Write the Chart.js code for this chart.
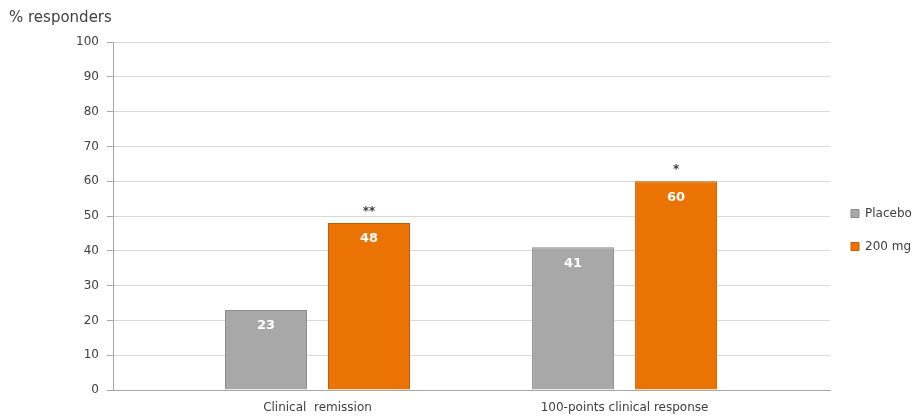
<!DOCTYPE html>
<html>
<head>
<meta charset="utf-8">
<script src="https://cdn.jsdelivr.net/npm/chart.js@4/dist/chart.umd.min.js"></script>
<style>
  html, body { margin: 0; padding: 0; background: #ffffff; }
  #wrap { width: 916px; height: 418px; position: relative; }
</style>
</head>
<body>
<div id="wrap"><canvas id="c" width="916" height="418"></canvas></div>
<script>
// ---- data ----
const categories = ['Clinical  remission', '100-points clinical response'];
const seriesNames = ['Placebo', '200 mg'];
const placeboValues = [23, 41];
const doseValues = [48, 60];
const significance = ['**', '*'];
const yTicks = [0, 10, 20, 30, 40, 50, 60, 70, 80, 90, 100];
const yAxisTitle = '% responders';

const FONT = '"DejaVu Sans", Verdana, sans-serif';

const labelPlugin = {
  id: 'barLabels',
  afterDatasetsDraw(chart) {
    const ctx = chart.ctx;
    ctx.save();
    ctx.textAlign = 'center';
    ctx.textBaseline = 'middle';
    chart.data.datasets.forEach((ds, di) => {
      const meta = chart.getDatasetMeta(di);
      meta.data.forEach((bar, i) => {
        ctx.fillStyle = '#ffffff';
        ctx.font = 'bold 13px ' + FONT;
        ctx.fillText(String(ds.data[i].y), bar.x, bar.y + 16);
        if (di === 1) {
          ctx.fillStyle = '#404040';
          ctx.font = 'bold 12px ' + FONT;
          ctx.fillText(significance[i], bar.x, bar.y - 11);
        }
      });
    });
    ctx.restore();
  }
};

const titlePlugin = {
  id: 'topTitle',
  afterDraw(chart) {
    const ctx = chart.ctx;
    ctx.save();
    ctx.fillStyle = '#404040';
    ctx.font = '15px ' + FONT;
    ctx.textAlign = 'left';
    ctx.textBaseline = 'middle';
    ctx.fillText(yAxisTitle, 9, 18);
    ctx.restore();
  }
};

new Chart(document.getElementById('c'), {
  type: 'bar',
  data: {
    datasets: [
      {
        label: seriesNames[0],
        data: categories.map((c, i) => ({ x: i + 1, y: placeboValues[i] })),
        backgroundColor: '#a8a8a8',
        borderColor: '#8c8c8c',
        borderWidth: 1
      },
      {
        label: seriesNames[1],
        data: categories.map((c, i) => ({ x: i + 1, y: doseValues[i] })),
        backgroundColor: '#eb7304',
        borderColor: '#c45c00',
        borderWidth: 1
      }
    ]
  },
  options: {
    responsive: false,
    animation: false,
    categoryPercentage: 0.671,
    barPercentage: 0.796,
    layout: { padding: { left: 76, top: 42, right: 0, bottom: 0 } },
    plugins: {
      legend: {
        position: 'right',
        maxWidth: 86,
        labels: {
          boxWidth: 8,
          boxHeight: 8,
          padding: 21,
          color: '#404040',
          font: { family: FONT, size: 12 }
        }
      },
      tooltip: { enabled: false },
      title: { display: false }
    },
    scales: {
      x: {
        type: 'linear',
        offset: false,
        min: 0.334,
        max: 2.669,
        afterBuildTicks(scale) {
          scale.ticks = categories.map((c, i) => ({ value: i + 1 }));
        },
        afterFit(scale) { scale.height = 28; },
        ticks: {
          autoSkip: false,
          maxRotation: 0,
          padding: 11,
          color: '#404040',
          font: { family: FONT, size: 12 },
          callback: (v) => categories[v - 1] || ''
        },
        grid: { display: true, offset: false, drawOnChartArea: false, drawTicks: false },
        border: { display: true, color: '#a6a6a6' }
      },
      y: {
        min: 0,
        max: 100,
        afterBuildTicks(scale) {
          scale.ticks = yTicks.map(v => ({ value: v }));
        },
        afterFit(scale) { scale.width = 37; },
        ticks: {
          padding: 8,
          color: '#404040',
          font: { family: FONT, size: 12 }
        },
        grid: { color: '#d9d9d9', tickColor: '#a6a6a6', tickLength: 6, lineWidth: 1 },
        border: { display: true, color: '#a6a6a6' }
      }
    }
  },
  plugins: [labelPlugin, titlePlugin]
});
</script>
</body>
</html>
